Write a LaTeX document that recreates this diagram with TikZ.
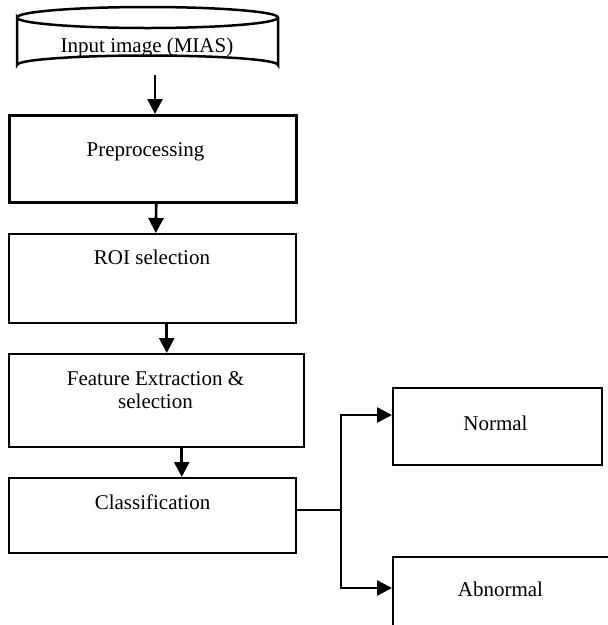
\documentclass[tikz,border=0pt]{standalone}
\usepackage{fontspec}
\setmainfont{Liberation Serif}
\usetikzlibrary{arrows.meta}
\begin{document}
\begin{tikzpicture}[x=1pt,y=-1pt,
  box/.style={draw, line width=1.5pt, inner sep=0pt, anchor=north west},
  lbl/.style={inner sep=0pt, align=center, font=\fontsize{21}{23}\selectfont},
  arr/.style={line width=2.6pt, -{Triangle[length=15pt,width=15pt]}},
  wire/.style={line width=2.4pt}]
\useasboundingbox (0,0) rectangle (608,625);
\clip (0,0) rectangle (608,625);
% cylinder
\draw[line width=2.5pt] (17,17.5) arc[start angle=180, end angle=360, x radius=130.5, y radius=10.5]
  arc[start angle=0, end angle=180, x radius=130.5, y radius=10.5] -- (17,65)
  arc[start angle=180, end angle=360, x radius=130.5, y radius=9.5] -- (278,17.5);
\node[lbl] (inp) at (147,47) {Input image (MIAS)};
\coordinate (inpbot) at (155,74.5);
% boxes
\node[box, line width=2.5pt, minimum width=287pt, minimum height=87pt] (pre) at (8,114) {};
\node[box, minimum width=287pt, minimum height=89pt] (roi) at (8,233) {};
\node[box, minimum width=295pt, minimum height=93pt] (feat) at (8,353) {};
\node[box, minimum width=287pt, minimum height=75pt] (cls) at (8,477) {};
\node[box, line width=1.9pt, minimum width=209pt, minimum height=77pt] (nor) at (392,387) {};
\node[box, line width=2.1pt, minimum width=240pt, minimum height=100pt] (abn) at (392,556) {};
% texts
\node[lbl] (tpre) at (145.5,152) {Preprocessing};
\node[lbl] (troi) at (152,257) {ROI selection};
\node[lbl] (tfeat) at (155.5,390.5) {Feature Extraction \&\\selection};
\node[lbl] (tcls) at (152.5,502) {Classification};
\node[lbl] (tnor) at (495.5,423) {Normal};
\node[lbl] (tabn) at (500.5,589) {Abnormal};
% connectors
\draw[arr] (inpbot) -- (inpbot |- pre.north);
\draw[arr] ([xshift=3.5pt]pre.south) -- ([xshift=3.5pt]roi.north);
\draw[arr] ([xshift=14.5pt]roi.south) -- ([xshift=14.5pt]roi.south |- feat.north);
\draw[arr] ([xshift=25.5pt]feat.south) -- ([xshift=25.5pt]feat.south |- cls.north);
\coordinate (br) at (341,510);
\draw[wire] (cls.east |- br) -- (br);
\draw[arr] (br) |- (nor.west |- 0,415);
\draw[arr] (br) |- (abn.west |- 0,588);
\end{tikzpicture}
\end{document}
